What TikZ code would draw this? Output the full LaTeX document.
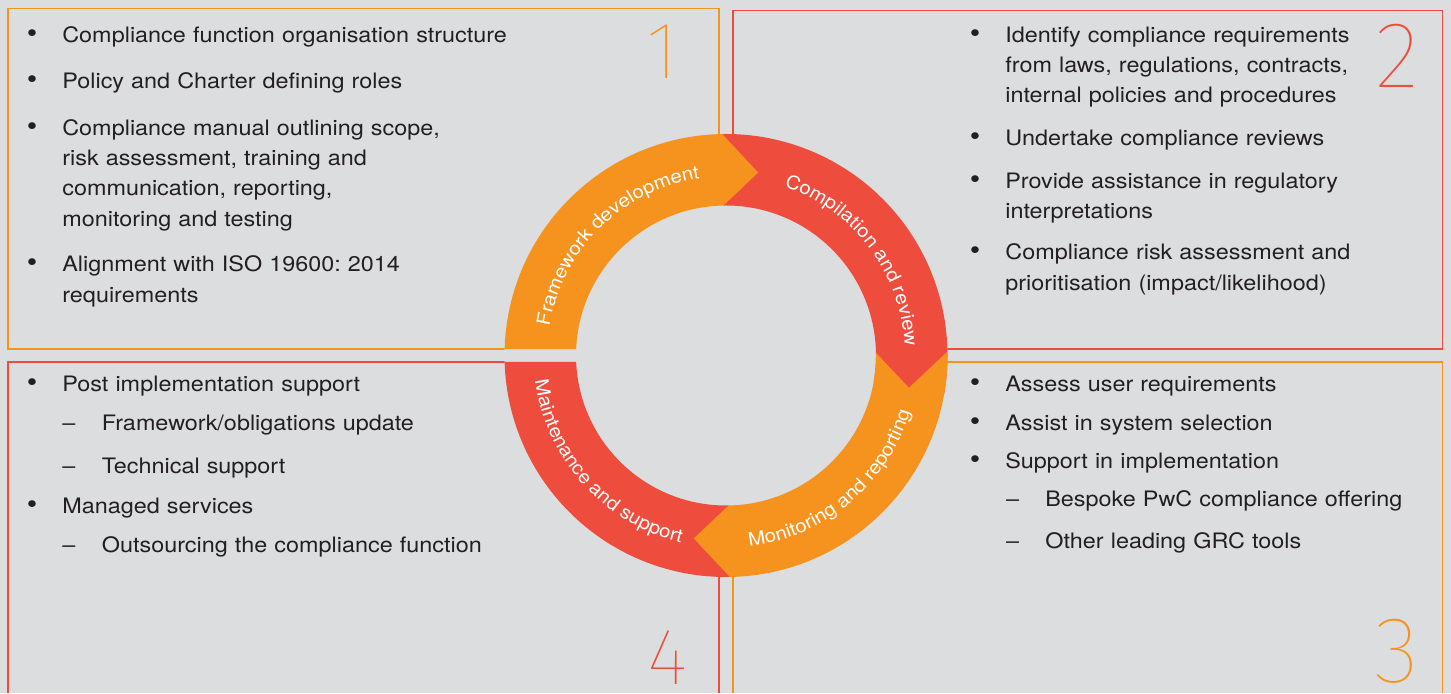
\documentclass[tikz,border=0pt]{standalone}
\usepackage{fontspec}
\setmainfont{TeX Gyre Heros}[FakeStretch=1.1]
\newfontfamily\digitfont{Fira Sans Thin}
\usetikzlibrary{decorations.text}
\frenchspacing

\definecolor{pwcorange}{RGB}{246,146,30}
\definecolor{pwcred}{RGB}{238,77,61}
\definecolor{panelgray}{RGB}{220,221,223}
\definecolor{inktext}{RGB}{35,31,32}

\newcommand\blurbfont{\fontsize{12.1}{17.2}\selectfont}
\newcommand\arcfont{\fontsize{10.6}{12}\selectfont}

\tikzset{
  itemtext/.style={anchor=base west,inner sep=0pt,text width=10cm,align=left,font=\blurbfont,text=inktext},
  bulletpt/.style={anchor=base,inner sep=0pt,font=\fontsize{15.5}{15.5}\selectfont,text=inktext},
  dashpt/.style={anchor=base,inner sep=0pt,font=\blurbfont,text=inktext},
  tally/.style={inner sep=0pt},
  arclabel/.style={decorate,decoration={text along path,text align=center,text color=white,text={|\arcfont|#1}}}
}

\begin{document}
\begin{tikzpicture}[line cap=butt,line join=miter,x=1.0cm,y=1.0cm]

\useasboundingbox (0,0) rectangle (29.02,13.86);
\fill[panelgray] (0,0) rectangle (29.02,13.86);

% the four panels
\draw[pwcorange,line width=1.1pt] (0.16,6.88) rectangle (14.386,13.69);
\draw[pwcred,line width=1.1pt] (14.654,6.88) rectangle (28.85,13.65);
\draw[pwcred,line width=1.1pt] (0.16,0) -- (0.16,6.62) -- (14.386,6.62) -- (14.386,0);
\draw[pwcorange,line width=1.1pt] (14.654,0) -- (14.654,6.62) -- (28.85,6.62) -- (28.85,0);

% ring, hole first so the panel lines vanish
\fill[panelgray] (14.52,6.75) circle (4.43);
\begin{scope}[shift={(14.52,6.75)}]
\fill[pwcred] (91:4.43) arc[start angle=91,end angle=-10,radius=4.43] -- (-10:3.0) arc[start angle=-10,end angle=91,radius=3.0] -- cycle;
\fill[pwcred] (-89:4.43) arc[start angle=-89,end angle=-178.32,radius=4.43] -- (-177.52:3.0) arc[start angle=-177.52,end angle=-89,radius=3.0] -- cycle;
\fill[pwcorange] (178.32:4.43) arc[start angle=178.32,end angle=91,radius=4.43] -- (80:3.715) -- (91:3.0) arc[start angle=91,end angle=177.52,radius=3.0] -- cycle;
\fill[pwcorange] (1:4.43) arc[start angle=1,end angle=-89,radius=4.43] -- (-100:3.715) -- (-89:3.0) arc[start angle=-89,end angle=1,radius=3.0] -- (-10:3.715) -- cycle;

\path[arclabel=Framework development] (175:3.58) arc[start angle=175,end angle=94,radius=3.58];
\path[arclabel=Compilation and review] (76:3.58) arc[start angle=76,end angle=-2,radius=3.58];
\path[arclabel=Monitoring and reporting] (-95:3.85) arc[start angle=-95,end angle=-5,radius=3.85];
\path[arclabel=Maintenance and support] (177:3.85) arc[start angle=177,end angle=267,radius=3.85];
\end{scope}

% panel 1
\node[itemtext] (b1a) at (1.24,13.01) {Compliance function organisation structure};
\node[itemtext] (b1b) at (1.24,12.09) {Policy and Charter defining roles};
\node[itemtext] (b1c) at (1.24,11.15) {Compliance manual outlining scope,\\ risk assessment, training and\\ communication, reporting,\\ monitoring and testing};
\node[itemtext] (b1d) at (1.24,8.42) {Alignment with ISO 19600: 2014\\ requirements};
\node[bulletpt] (d1a) at ([xshift=-0.6cm]b1a.base west) {\textbullet};
\node[bulletpt] (d1b) at ([xshift=-0.6cm]b1b.base west) {\textbullet};
\node[bulletpt] (d1c) at ([xshift=-0.6cm]b1c.base west) {\textbullet};
\node[bulletpt] (d1d) at ([xshift=-0.6cm]b1d.base west) {\textbullet};

% panel 2
\node[itemtext] (b2a) at (20.1,13.01) {Identify compliance requirements\\ from laws, regulations, contracts,\\ internal policies and procedures};
\node[itemtext] (b2b) at (20.1,10.94) {Undertake compliance reviews};
\node[itemtext] (b2c) at (20.1,10.09) {Provide assistance in regulatory\\ interpretations};
\node[itemtext] (b2d) at (20.1,8.66) {Compliance risk assessment and\\ prioritisation (impact/likelihood)};
\node[bulletpt] (d2a) at ([xshift=-0.6cm]b2a.base west) {\textbullet};
\node[bulletpt] (d2b) at ([xshift=-0.6cm]b2b.base west) {\textbullet};
\node[bulletpt] (d2c) at ([xshift=-0.6cm]b2c.base west) {\textbullet};
\node[bulletpt] (d2d) at ([xshift=-0.6cm]b2d.base west) {\textbullet};

% panel 3
\node[itemtext] (b3a) at (20.1,6.03) {Assess user requirements};
\node[itemtext] (b3b) at (20.1,5.25) {Assist in system selection};
\node[itemtext] (b3c) at (20.1,4.49) {Support in implementation};
\node[itemtext] (b3d) at (20.9,3.73) {Bespoke PwC compliance offering};
\node[itemtext] (b3e) at (20.9,2.89) {Other leading GRC tools};
\node[bulletpt] (d3a) at ([xshift=-0.6cm]b3a.base west) {\textbullet};
\node[bulletpt] (d3b) at ([xshift=-0.6cm]b3b.base west) {\textbullet};
\node[bulletpt] (d3c) at ([xshift=-0.6cm]b3c.base west) {\textbullet};
\node[dashpt] (d3d) at ([xshift=-0.65cm]b3d.base west) {\textendash};
\node[dashpt] (d3e) at ([xshift=-0.65cm]b3e.base west) {\textendash};

% panel 4
\node[itemtext] (b4a) at (1.24,6.03) {Post implementation support};
\node[itemtext] (b4b) at (2.03,5.25) {Framework/obligations update};
\node[itemtext] (b4c) at (2.03,4.39) {Technical support};
\node[itemtext] (b4d) at (1.24,3.58) {Managed services};
\node[itemtext] (b4e) at (2.03,2.81) {Outsourcing the compliance function};
\node[bulletpt] (d4a) at ([xshift=-0.6cm]b4a.base west) {\textbullet};
\node[dashpt] (d4b) at ([xshift=-0.65cm]b4b.base west) {\textendash};
\node[dashpt] (d4c) at ([xshift=-0.65cm]b4c.base west) {\textendash};
\node[bulletpt] (d4d) at ([xshift=-0.6cm]b4d.base west) {\textbullet};
\node[dashpt] (d4e) at ([xshift=-0.65cm]b4e.base west) {\textendash};

% big panel numbers
\node[tally,text=pwcorange,font=\digitfont\fontsize{46}{46}\selectfont] (n1) at (13.24,12.82) {1};
\node[tally,text=pwcred,font=\digitfont\fontsize{53.5}{53.5}\selectfont] (n2) at (27.95,12.74) {2};
\node[tally,text=pwcorange,font=\digitfont\fontsize{53.5}{53.5}\selectfont] (n3) at (27.94,0.83) {3};
\node[tally,text=pwcred,font=\digitfont\fontsize{45.5}{45.5}\selectfont] (n4) at (13.36,0.71) {4};

\end{tikzpicture}
\end{document}
